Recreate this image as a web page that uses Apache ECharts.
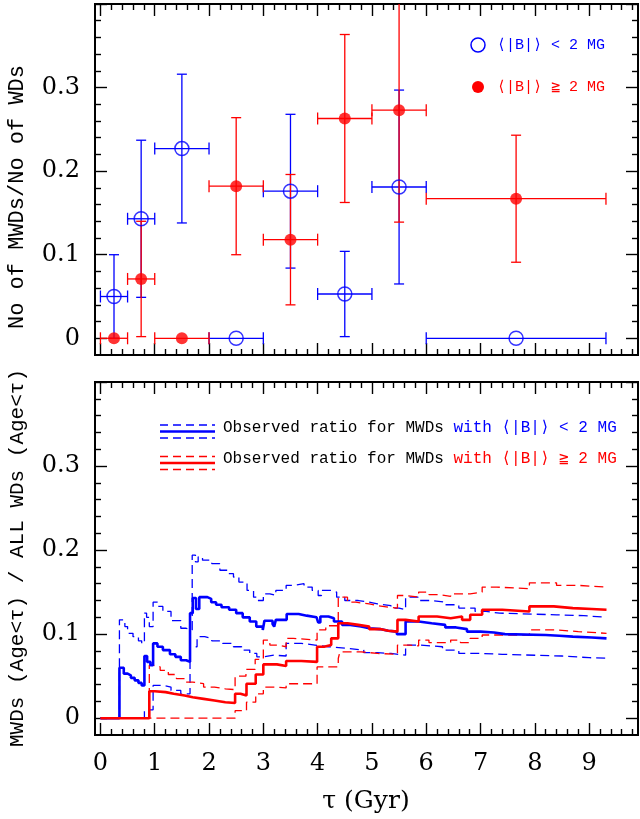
<!DOCTYPE html>
<html>
<head>
<meta charset="utf-8">
<script src="https://cdn.jsdelivr.net/npm/echarts@6/dist/echarts.min.js"></script>
<style>
  html, body { margin: 0; padding: 0; background: #fff; }
  #chart { width: 640px; height: 819px; }
</style>
</head>
<body>
<div id="chart"></div>
<script>
// ---- Age bins (Gyr) ----
const binCentre = [0.25, 0.75, 1.5, 2.5, 3.5, 4.5, 5.5, 7.655];
const binLow    = [0, 0.5, 1, 2, 3, 4, 5, 6];
const binHigh   = [0.5, 1, 2, 3, 4, 5, 6, 9.31];

// ---- Fraction of MWDs per bin, <|B|> < 2 MG ----
const weakFrac = [0.05, 0.143, 0.227, 0, 0.176, 0.053, 0.181, 0];
const weakErr  = [0.05, 0.094, 0.089, 0, 0.092, 0.051, 0.116, 0];

// ---- Fraction of MWDs per bin, <|B|> >= 2 MG ----
const strongFrac = [0, 0.071, 0, 0.182, 0.118, 0.263, 0.273, 0.167];
const strongErr  = [0, 0.069, 0, 0.082, 0.078, 0.1005, 0.134, 0.076];

// ---- Cumulative ratio MWDs(Age<tau)/WDs(Age<tau): [tau, ratio], value holds until next tau ----
const weakRatio = [[0,0],[0.35,0.060],[0.43,0.053],[0.50,0.051],[0.56,0.048],[0.63,0.045],[0.70,0.042],[0.76,0.039],
  [0.81,0.074],[0.86,0.067],[0.92,0.063],[0.97,0.089],[1.05,0.085],[1.15,0.081],[1.28,0.076],[1.38,0.073],[1.48,0.069],
  [1.58,0.067],[1.65,0.125],[1.70,0.143],[1.76,0.130],[1.82,0.144],[1.97,0.142],[2.04,0.138],[2.13,0.135],[2.23,0.132],
  [2.37,0.129],[2.50,0.125],[2.62,0.120],[2.75,0.115],[2.87,0.109],[2.99,0.105],[3.02,0.116],[3.17,0.112],[3.20,0.109],
  [3.23,0.117],[3.43,0.124],[3.65,0.122],[3.80,0.120],[3.98,0.118],[4.01,0.114],[4.05,0.121],[4.20,0.119],[4.30,0.115],
  [4.45,0.111],[4.60,0.109],[4.80,0.107],[4.95,0.106],[5.15,0.104],[5.30,0.103],[5.46,0.100],[5.62,0.115],[5.86,0.113],
  [6.10,0.111],[6.35,0.108],[6.55,0.106],[6.75,0.103],[7.00,0.102],[7.25,0.100],[7.45,0.099],[8.20,0.098],[8.45,0.097],
  [8.70,0.096],[9.05,0.095],[9.32,0.095]];
const weakUpper = [[0,0],[0.35,0.117],[0.45,0.109],[0.50,0.101],[0.60,0.097],[0.70,0.092],[0.76,0.089],[0.81,0.125],
  [0.85,0.120],[0.90,0.109],[0.97,0.138],[1.05,0.133],[1.15,0.127],[1.30,0.116],[1.48,0.107],[1.58,0.105],[1.69,0.194],
  [1.75,0.186],[1.80,0.192],[1.88,0.188],[2.05,0.184],[2.20,0.176],[2.35,0.172],[2.45,0.168],[2.55,0.162],[2.70,0.152],
  [2.82,0.144],[2.90,0.140],[3.00,0.148],[3.12,0.146],[3.23,0.152],[3.42,0.158],[3.55,0.160],[3.75,0.156],[3.90,0.152],
  [4.01,0.146],[4.07,0.152],[4.25,0.150],[4.35,0.144],[4.50,0.140],[4.75,0.138],[4.95,0.136],[5.10,0.134],[5.35,0.131],
  [5.50,0.129],[5.62,0.144],[5.85,0.140],[6.10,0.138],[6.35,0.135],[6.60,0.131],[6.90,0.127],[7.10,0.125],[7.35,0.123],
  [8.40,0.122],[8.90,0.120],[9.32,0.120]];
const weakLower = [[0,0],[0.81,0.010],[0.97,0.039],[1.15,0.037],[1.30,0.033],[1.48,0.029],[1.65,0.085],[1.78,0.097],
  [1.92,0.095],[2.05,0.092],[2.25,0.089],[2.45,0.085],[2.60,0.081],[2.75,0.077],[2.88,0.073],[3.00,0.075],[3.20,0.074],
  [3.42,0.089],[3.70,0.087],[3.95,0.085],[4.20,0.083],[4.55,0.081],[4.85,0.078],[5.10,0.077],[5.35,0.075],[5.62,0.087],
  [5.90,0.085],[6.30,0.081],[6.60,0.077],[7.00,0.076],[7.40,0.074],[8.50,0.072],[9.00,0.0715],[9.32,0.0715]];

const strongRatio = [[0,0],[0.90,0.032],[1.00,0.031],[1.20,0.029],[1.35,0.027],[1.55,0.025],[1.70,0.023],[1.90,0.021],
  [2.10,0.019],[2.30,0.018],[2.48,0.029],[2.58,0.027],[2.69,0.041],[2.86,0.052],[3.00,0.064],[3.25,0.062],[3.42,0.068],
  [3.70,0.067],[3.99,0.085],[4.12,0.087],[4.25,0.095],[4.38,0.113],[4.55,0.111],[4.75,0.109],[4.95,0.106],[5.15,0.104],
  [5.30,0.103],[5.47,0.117],[5.62,0.115],[5.86,0.121],[6.20,0.119],[6.45,0.121],[6.66,0.117],[6.81,0.123],[7.03,0.129],
  [7.40,0.127],[7.90,0.133],[8.35,0.131],[8.70,0.130],[9.05,0.129],[9.32,0.129]];
const strongUpper = [[0,0],[0.90,0.063],[0.97,0.061],[1.10,0.057],[1.25,0.052],[1.40,0.047],[1.55,0.043],[1.70,0.041],
  [1.90,0.037],[2.10,0.035],[2.30,0.034],[2.48,0.050],[2.68,0.058],[2.85,0.070],[3.00,0.093],[3.12,0.087],[3.25,0.085],
  [3.42,0.095],[3.55,0.093],[3.99,0.105],[4.15,0.110],[4.38,0.144],[4.55,0.138],[4.70,0.136],[4.95,0.134],[5.10,0.132],
  [5.30,0.131],[5.47,0.146],[5.62,0.144],[5.86,0.150],[6.05,0.147],[6.25,0.145],[6.45,0.148],[6.81,0.150],[7.03,0.156],
  [7.30,0.154],[7.90,0.161],[8.40,0.158],[8.80,0.156],[9.32,0.156]];
const strongLower = [[0,0],[2.48,0.009],[2.69,0.019],[2.86,0.029],[3.00,0.037],[3.25,0.036],[3.42,0.041],[3.99,0.061],
  [4.38,0.071],[4.41,0.079],[4.80,0.077],[5.10,0.076],[5.47,0.087],[5.70,0.086],[5.86,0.093],[6.05,0.090],[6.45,0.093],
  [6.63,0.090],[6.81,0.095],[7.03,0.099],[7.90,0.105],[8.40,0.103],[8.80,0.101],[9.32,0.101]];

const BLUE = '#0000ff';
const RED = '#ff0000';
const MONO = '"Liberation Mono", "DejaVu Sans Mono", monospace';
const SERIF = '"DejaVu Serif", serif';

// ---- Panel geometry: frame spans tau -0.1..9.9 and ratio -0.02..0.4 ----
const FRAME_L = 95, FRAME_W = 543;
const PX_PER_GYR = FRAME_W / 10;
const panels = [{ top: 4, height: 351 }, { top: 382, height: 353 }];

const grids = [];
const xAxes = [];
const yAxes = [];
panels.forEach((p, k) => {
  const pxPerUnit = p.height / 0.42;
  // frame / data grid
  grids.push({ left: FRAME_L, top: p.top, width: FRAME_W, height: p.height,
    show: true, borderColor: '#000', borderWidth: 2, backgroundColor: 'transparent', outerBoundsMode: 'none' });
  // tick grid: tau 0..10, ratio 0..0.4
  grids.push({ left: FRAME_L + 0.1 * PX_PER_GYR, top: p.top, width: FRAME_W, height: 0.4 * pxPerUnit,
    show: false, outerBoundsMode: 'none' });
  const dataGrid = 2 * k, tickGrid = 2 * k + 1;
  const tickStyle = { color: '#000', width: 1.4 };
  xAxes.push({ gridIndex: dataGrid, type: 'value', min: -0.1, max: 9.9, show: false });
  ['bottom', 'top'].forEach(pos => {
    xAxes.push({
      gridIndex: tickGrid, type: 'value', position: pos, min: 0, max: 10, interval: 1,
      offset: pos === 'bottom' ? 0.02 * pxPerUnit : 0,
      axisLine: { show: false, onZero: false },
      axisTick: { show: true, inside: true, length: 12, lineStyle: tickStyle },
      minorTick: { show: true, splitNumber: 5, length: 6, lineStyle: tickStyle },
      splitLine: { show: false }, minorSplitLine: { show: false },
      axisLabel: (k === 1 && pos === 'bottom') ? {
        show: true, margin: 17, color: '#000', fontFamily: SERIF, fontSize: 24,
        formatter: v => (v > 9.5 ? '' : String(v))
      } : { show: false }
    });
  });
  yAxes.push({ gridIndex: dataGrid, type: 'value', min: -0.02, max: 0.4, show: false });
  ['left', 'right'].forEach(pos => {
    yAxes.push({
      gridIndex: tickGrid, type: 'value', position: pos, min: 0, max: 0.4, interval: 0.1,
      offset: pos === 'left' ? 0.1 * PX_PER_GYR : -0.1 * PX_PER_GYR,
      axisLine: { show: false, onZero: false },
      axisTick: { show: true, inside: true, length: 12, lineStyle: tickStyle },
      minorTick: { show: true, splitNumber: 5, length: 6, lineStyle: tickStyle },
      splitLine: { show: false }, minorSplitLine: { show: false },
      axisLabel: pos === 'left' ? {
        show: true, margin: 15, color: '#000', fontFamily: SERIF, fontSize: 24,
        formatter: v => (v > 0.35 ? '' : String(Math.round(v * 10) / 10))
      } : { show: false }
    });
  });
});

// error bars: horizontal = bin width, vertical = +/- err
function errorBars(color, frac, err) {
  return {
    type: 'custom', xAxisIndex: 0, yAxisIndex: 0, clip: true, z: 3,
    encode: { x: 0, y: 1 },
    data: binCentre.map((t, i) => [t, frac[i], binLow[i], binHigh[i], err[i]]),
    renderItem(params, api) {
      const t = api.value(0), v = api.value(1), lo = api.value(2), hi = api.value(3), e = api.value(4);
      const L = api.coord([lo, v]), R = api.coord([hi, v]);
      const style = { stroke: color, lineWidth: 1.3, fill: null };
      const seg = (x1, y1, x2, y2) => ({ type: 'line', shape: { x1, y1, x2, y2 }, style });
      const capH = 6, capW = 5;
      const kids = [
        seg(L[0], L[1], R[0], R[1]),
        seg(L[0], L[1] - capH, L[0], L[1] + capH),
        seg(R[0], R[1] - capH, R[0], R[1] + capH)
      ];
      if (e > 0) {
        const T = api.coord([t, v + e]), B = api.coord([t, v - e]);
        kids.push(seg(T[0], T[1], B[0], B[1]));
        kids.push(seg(T[0] - capW, T[1], T[0] + capW, T[1]));
        kids.push(seg(B[0] - capW, B[1], B[0] + capW, B[1]));
      }
      return { type: 'group', children: kids };
    }
  };
}

function stepLine(data, color, solid) {
  return {
    type: 'line', xAxisIndex: 3, yAxisIndex: 3, step: 'end', data,
    symbol: 'none', silent: true, animation: false, z: solid ? 4 : 3,
    lineStyle: { color, width: solid ? 2.6 : 1.3, type: solid ? 'solid' : [9, 5] }
  };
}

const series = [
  errorBars(BLUE, weakFrac, weakErr),
  {
    type: 'scatter', xAxisIndex: 0, yAxisIndex: 0, z: 4,
    data: binCentre.map((t, i) => [t, weakFrac[i]]),
    symbol: 'circle', symbolSize: 14,
    itemStyle: { color: 'rgba(0,0,0,0)', borderColor: BLUE, borderWidth: 1.5 }
  },
  errorBars(RED, strongFrac, strongErr),
  {
    type: 'scatter', xAxisIndex: 0, yAxisIndex: 0, z: 5,
    data: binCentre.map((t, i) => [t, strongFrac[i]]),
    symbol: 'circle', symbolSize: 12, itemStyle: { color: RED }
  },
  stepLine(weakUpper, BLUE, false),
  stepLine(weakLower, BLUE, false),
  stepLine(weakRatio, BLUE, true),
  stepLine(strongUpper, RED, false),
  stepLine(strongLower, RED, false),
  stepLine(strongRatio, RED, true)
];

// legend keys and axis titles
const legendLines = (y, color) => [
  { type: 'line', shape: { x1: 160, y1: y - 6.5, x2: 215, y2: y - 6.5 }, style: { stroke: color, lineWidth: 1.3, lineDash: [8, 5] } },
  { type: 'line', shape: { x1: 160, y1: y, x2: 215, y2: y }, style: { stroke: color, lineWidth: 2.6 } },
  { type: 'line', shape: { x1: 160, y1: y + 6.5, x2: 215, y2: y + 6.5 }, style: { stroke: color, lineWidth: 1.3, lineDash: [8, 5] } }
];
const graphic = [
  { type: 'circle', shape: { cx: 478, cy: 45, r: 7 }, style: { stroke: BLUE, lineWidth: 1.5, fill: null } },
  { type: 'text', x: 497, y: 45, style: { text: '⟨|B|⟩ < 2 MG', fill: BLUE, font: '15px ' + MONO, textVerticalAlign: 'middle' } },
  { type: 'circle', shape: { cx: 478, cy: 87, r: 6 }, style: { fill: RED } },
  { type: 'text', x: 497, y: 87, style: { text: '⟨|B|⟩ ≧ 2 MG', fill: RED, font: '15px ' + MONO, textVerticalAlign: 'middle' } },
  ...legendLines(431.5, BLUE),
  ...legendLines(463, RED),
  { type: 'text', x: 223, y: 428, style: {
      text: '{k|Observed ratio for MWDs }{c|with ⟨|B|⟩ < 2 MG}', textVerticalAlign: 'middle',
      rich: { k: { fill: '#000', font: '16px ' + MONO }, c: { fill: BLUE, font: '16px ' + MONO } } } },
  { type: 'text', x: 223, y: 459, style: {
      text: '{k|Observed ratio for MWDs }{c|with ⟨|B|⟩ ≧ 2 MG}', textVerticalAlign: 'middle',
      rich: { k: { fill: '#000', font: '16px ' + MONO }, c: { fill: RED, font: '16px ' + MONO } } } },
  { type: 'text', x: 17, y: 197, rotation: Math.PI / 2, style: {
      text: 'No of MWDs/No of WDs', fill: '#000', font: '22px ' + MONO, textAlign: 'center', textVerticalAlign: 'middle' } },
  { type: 'text', x: 17, y: 558, rotation: Math.PI / 2, style: {
      text: 'MWDs (Age<τ) / ALL WDs (Age<τ)', fill: '#000', font: '21px ' + MONO, textAlign: 'center', textVerticalAlign: 'middle' } },
  { type: 'text', x: 366, y: 801, style: {
      text: 'τ (Gyr)', fill: '#000', font: '25px ' + SERIF, textAlign: 'center', textVerticalAlign: 'middle' } }
];

const chart = echarts.init(document.getElementById('chart'), null, { renderer: 'canvas' });
chart.setOption({
  animation: false,
  backgroundColor: '#fff',
  grid: grids,
  xAxis: xAxes,
  yAxis: yAxes,
  series,
  graphic
});
</script>
</body>
</html>
